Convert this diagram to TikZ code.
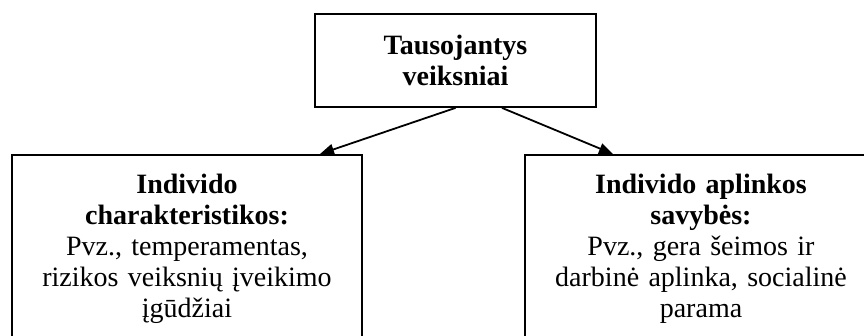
\documentclass[tikz,border=0pt]{standalone}
\usepackage{fontspec}
\setmainfont{Liberation Serif}
\usetikzlibrary{arrows.meta,positioning}
\definecolor{cborde}{HTML}{000000}
\tikzset{
  bloque/.style={draw=cborde,fill=white,line width=1.8pt,align=center,
                 font=\fontsize{28}{31}\selectfont},
  flecha/.style={-{Triangle[length=14pt,width=11pt]},draw=cborde,line width=1.8pt},
}

\begin{document}
\begin{tikzpicture}[x=1pt,y=1pt,
  caja/.style={bloque,anchor=north,text width=330pt,inner xsep=10pt,inner ysep=19pt}]

\useasboundingbox (0,0) rectangle (864,336);
\clip (0,0) rectangle (864,336);

% ---------------- factores ----------------
\node[bloque,minimum width=281pt,minimum height=93pt] (taus) at (455.5,275.5)
  {\textbf{Tausojantys}\\\textbf{veiksniai}};

\node[caja,minimum width=350pt] (indiv) at (187,182)
  {\textbf{Individo}\\\textbf{charakteristikos:}\\Pvz., temperamentas,\\rizikos veiksnių įveikimo\\įgūdžiai};
\node[caja,minimum width=352pt] (aplink) at (701,182)
  {\textbf{Individo aplinkos}\\\textbf{savybės:}\\Pvz., gera šeimos ir\\darbinė aplinka, socialinė\\parama};

\draw[flecha] (taus.south) -- ([xshift=133pt]indiv.north);
\draw[flecha] ([xshift=46.5pt]taus.south) -- ([xshift=-88pt]aplink.north);

\end{tikzpicture}
\end{document}
